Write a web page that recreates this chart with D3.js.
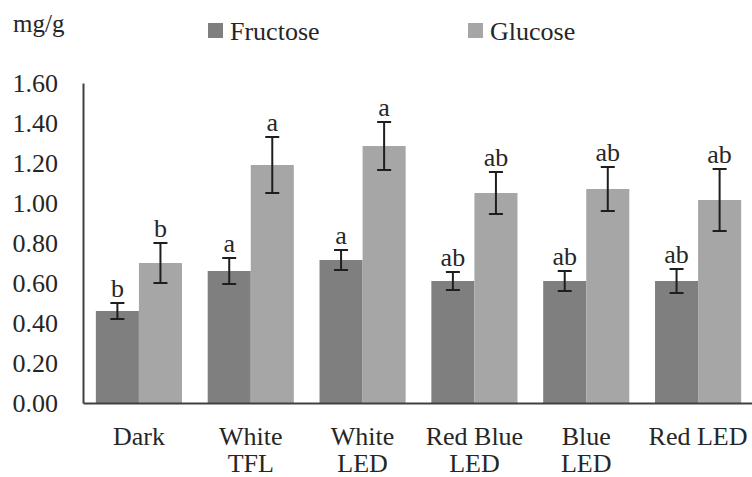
<html>
<head>
<script src="https://d3js.org/d3.v7.min.js"></script>
<style>
  body { margin: 0; background: #fff; }
</style>
</head>
<body>
<svg id="chart" width="752" height="477"></svg>
<script>
// Data
var categories = [["Dark"], ["White", "TFL"], ["White", "LED"], ["Red Blue", "LED"], ["Blue", "LED"], ["Red LED"]];
var series = ["Fructose", "Glucose"];
var fructose = [0.46, 0.66, 0.715, 0.61, 0.61, 0.61];
var fructoseErr = [0.04, 0.065, 0.05, 0.045, 0.05, 0.06];
var fructoseLetters = ["b", "a", "a", "ab", "ab", "ab"];
var glucose = [0.70, 1.19, 1.285, 1.05, 1.07, 1.015];
var glucoseErr = [0.10, 0.14, 0.12, 0.105, 0.11, 0.155];
var glucoseLetters = ["b", "a", "a", "ab", "ab", "ab"];
var yTicks = [0, 0.2, 0.4, 0.6, 0.8, 1.0, 1.2, 1.4, 1.6];
var colors = ["#7f7f7f", "#a6a6a6"];

var svg = d3.select("#chart");
var fontSize = "26px";
var font = "'Liberation Serif'";
var textColor = "#262626";

// scales
var x0 = d3.scaleBand()
  .domain(d3.range(categories.length))
  .range([83, 754])
  .paddingInner(0.23)
  .paddingOuter(0.115);
var x1 = d3.scaleBand()
  .domain(series)
  .range([0, x0.bandwidth()]);
var y = d3.scaleLinear()
  .domain([0, 1.6])
  .range([403, 83]);

var rows = categories.map(function(c, i) {
  return [
    {s: "Fructose", v: fructose[i], e: fructoseErr[i], l: fructoseLetters[i]},
    {s: "Glucose", v: glucose[i], e: glucoseErr[i], l: glucoseLetters[i]}
  ];
});

// bars
var groups = svg.selectAll("g.grp")
  .data(rows)
  .enter().append("g")
  .attr("class", "grp")
  .attr("transform", function(d, i) { return "translate(" + x0(i) + ",0)"; });

groups.selectAll("rect")
  .data(function(d) { return d; })
  .enter().append("rect")
  .attr("x", function(d) { return x1(d.s); })
  .attr("width", x1.bandwidth())
  .attr("y", function(d) { return y(d.v); })
  .attr("height", function(d) { return y(0) - y(d.v); })
  .style("fill", function(d, j) { return colors[j]; });

// error bars
var capW = 7;
var eb = groups.selectAll("g.err")
  .data(function(d) { return d; })
  .enter().append("g")
  .attr("class", "err")
  .style("stroke", "#1e1e1e")
  .style("stroke-width", 2);
eb.append("line")
  .attr("x1", function(d) { return x1(d.s) + x1.bandwidth() / 2; })
  .attr("x2", function(d) { return x1(d.s) + x1.bandwidth() / 2; })
  .attr("y1", function(d) { return y(d.v + d.e); })
  .attr("y2", function(d) { return y(d.v - d.e); });
eb.append("line")
  .attr("x1", function(d) { return x1(d.s) + x1.bandwidth() / 2 - capW; })
  .attr("x2", function(d) { return x1(d.s) + x1.bandwidth() / 2 + capW; })
  .attr("y1", function(d) { return y(d.v + d.e); })
  .attr("y2", function(d) { return y(d.v + d.e); });
eb.append("line")
  .attr("x1", function(d) { return x1(d.s) + x1.bandwidth() / 2 - capW; })
  .attr("x2", function(d) { return x1(d.s) + x1.bandwidth() / 2 + capW; })
  .attr("y1", function(d) { return y(d.v - d.e); })
  .attr("y2", function(d) { return y(d.v - d.e); });

// significance letters
groups.selectAll("text.letter")
  .data(function(d) { return d; })
  .enter().append("text")
  .attr("class", "letter")
  .attr("x", function(d) { return x1(d.s) + x1.bandwidth() / 2; })
  .attr("y", function(d) { return y(d.v + d.e) - 6; })
  .attr("text-anchor", "middle")
  .style("font-family", font)
  .style("font-size", fontSize)
  .style("fill", textColor)
  .text(function(d) { return d.l; });

// y axis
var yAxis = svg.append("g")
  .attr("transform", "translate(83,0)")
  .call(d3.axisLeft(y).tickValues(yTicks).tickSize(0).tickPadding(25)
    .tickFormat(d3.format(".2f")));
yAxis.select(".domain").attr("stroke", "#404040").attr("stroke-width", 2);
yAxis.selectAll("text")
  .style("font-family", font)
  .style("font-size", fontSize)
  .style("fill", textColor);

// x axis
var xAxis = svg.append("g")
  .attr("transform", "translate(0,403)")
  .call(d3.axisBottom(x0).tickSize(0).tickFormat(""));
xAxis.select(".domain").attr("stroke", "#404040").attr("stroke-width", 2);

// category labels
svg.selectAll("text.cat")
  .data(categories)
  .enter().append("text")
  .attr("class", "cat")
  .attr("text-anchor", "middle")
  .style("font-family", font)
  .style("font-size", fontSize)
  .style("fill", textColor)
  .attr("x", function(d, i) { return x0(i) + x0.bandwidth() / 2; })
  .attr("y", 445)
  .selectAll("tspan")
  .data(function(d) { return d; })
  .enter().append("tspan")
  .attr("x", function() { return d3.select(this.parentNode).attr("x"); })
  .attr("dy", function(d, i) { return i === 0 ? 0 : 27; })
  .text(function(d) { return d; });

// unit label
svg.append("text")
  .attr("x", 13)
  .attr("y", 32)
  .style("font-family", font)
  .style("font-size", "25px")
  .style("fill", textColor)
  .text("mg/g");

// legend
var legendX = [208, 468];
var lg = svg.selectAll("g.legend")
  .data(series)
  .enter().append("g")
  .attr("class", "legend")
  .attr("transform", function(d, i) { return "translate(" + legendX[i] + ",0)"; });
lg.append("rect")
  .attr("x", 0)
  .attr("y", 23)
  .attr("width", 15)
  .attr("height", 15)
  .style("fill", function(d, i) { return colors[i]; });
lg.append("text")
  .attr("x", 22)
  .attr("y", 40)
  .style("font-family", font)
  .style("font-size", fontSize)
  .style("fill", textColor)
  .text(function(d) { return d; });
</script>
</body>
</html>
